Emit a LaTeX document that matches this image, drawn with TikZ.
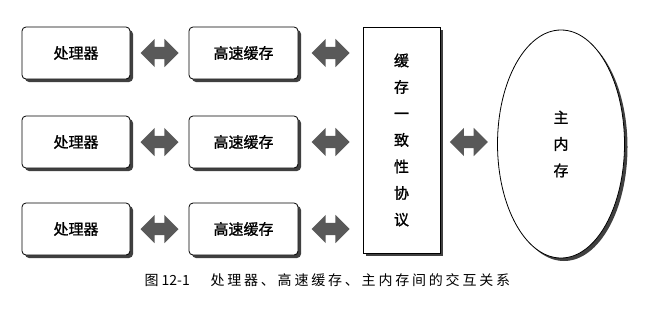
\documentclass[tikz,border=0pt]{standalone}
\usepackage{fontspec}
\newfontfamily\cjk[FakeBold=1.2]{Noto Sans CJK SC}
\newfontfamily\plaincjk{Noto Sans CJK SC}
\newfontfamily\capcjk[LetterSpace=20]{Noto Sans CJK SC}
\usetikzlibrary{shapes.geometric,shapes.arrows,shadows,calc}

\tikzset{
  unitbox/.style={draw,thick,fill=white,rounded corners=4pt,
    minimum width=108pt,minimum height=52pt,
    font=\cjk\fontsize{15}{17}\selectfont,
    drop shadow={shadow xshift=3pt,shadow yshift=-3pt,fill=black,opacity=.75}},
  tallbox/.style={draw,thick,fill=white,align=center,
    font=\cjk\fontsize{15}{26.5}\selectfont,
    drop shadow={shadow xshift=3pt,shadow yshift=-3pt,fill=black,opacity=.75}},
  bus/.style={double arrow,fill=black!65,inner sep=6pt,
    double arrow head extend=8pt,minimum height=38pt},
}

\begin{document}
\begin{tikzpicture}[x=1pt,y=-1pt]
  \useasboundingbox (0,0) rectangle (660,308);
  % 处理器 + 高速缓存
  \foreach \i/\y in {1/53,2/142,3/229}{
    \node[unitbox] (proc\i) at (76,\y) {处理器};
    \node[unitbox,minimum width=109pt] (cache\i) at (243.5,\y) {高速缓存};
  }
  % 缓存一致性协议
  \node[tallbox,minimum width=77pt,minimum height=226pt] (proto) at (401.5,140)
    {缓\\存\\一\\致\\性\\协\\议};
  % 主内存
  \node[tallbox,ellipse,minimum width=127pt,minimum height=228pt] (mem) at (561,144)
    {主\\内\\存};
  % 双向箭头
  \foreach \i in {1,2,3}{
    \node[bus] (pc\i) at ($(proc\i.east)!.5!(cache\i.west)$) {};
    \node[bus] (cp\i) at ($(cache\i.east)!.5!(cache\i.east -| proto.west)$) {};
  }
  \node[bus] (pm) at ($(proto.east)!.5!(mem.west)$) {};
  % 图题
  \node[anchor=west,font=\plaincjk\fontsize{14}{16}\selectfont] (fignum) at (141,280) {图 12-1};
  \node[anchor=west,font=\capcjk\fontsize{14}{16}\selectfont] (caption) at (207,280)
    {处理器、高速缓存、主内存间的交互关系};
\end{tikzpicture}
\end{document}
